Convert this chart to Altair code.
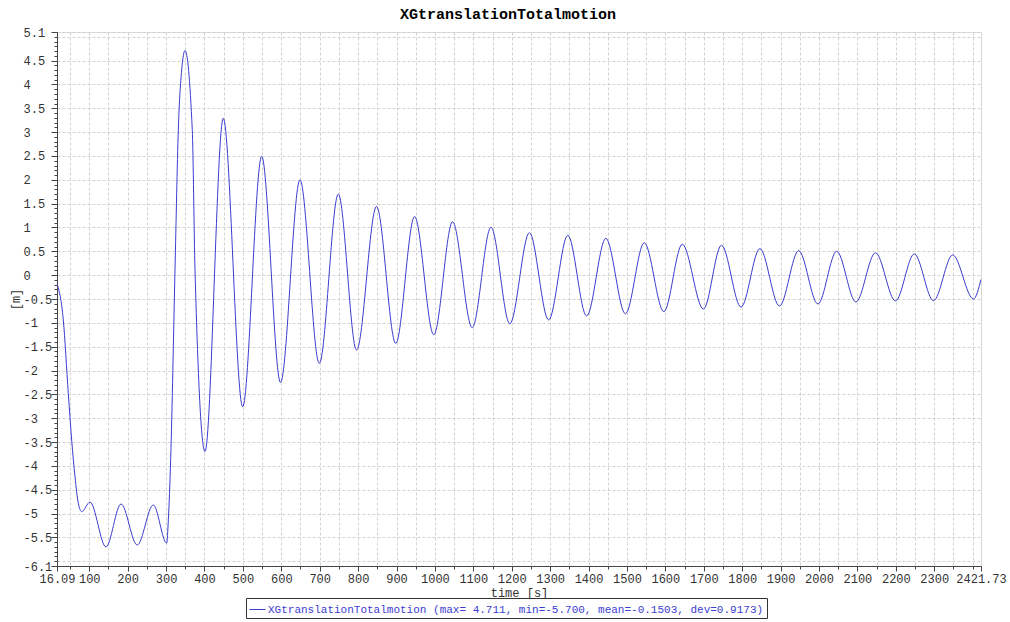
import altair as alt
import pandas as pd

# ---- data (extrema and a few extra points) ----
time_s = [16.09, 32.5, 45.5, 54.3, 63.0, 71.5, 80.4, 102.0, 143.6, 182.7, 225.0,
          266.8, 301.6, 306.0, 312.0, 323.3, 331.9, 340.7, 349.3, 368.3, 375.4,
          401.4, 449.0, 499.5, 549.0, 598.0, 648.7, 699.0, 748.5, 796.0, 848.0,
          898.0, 947.0, 997.0, 1046.0, 1097.0, 1146.0, 1195.0, 1246.0, 1296.0,
          1346.0, 1395.0, 1445.0, 1496.0, 1545.0, 1596.0, 1644.0, 1699.0, 1746.0,
          1797.0, 1846.0, 1897.0, 1947.0, 1997.0, 2046.0, 2096.0, 2147.0, 2199.0,
          2248.0, 2298.0, 2348.0, 2402.0, 2421.73]
x_translation = [-0.18, -0.94, -2.48, -3.46, -4.23, -4.78, -4.96, -4.76, -5.70, -4.80, -5.66,
                 -4.82, -5.62, -5.13, -3.87, 0.11, 3.04, 4.30, 4.711, 3.04, 0.11,
                 -3.70, 3.29, -2.76, 2.49, -2.25, 2.00, -1.85, 1.70, -1.57, 1.44,
                 -1.43, 1.23, -1.25, 1.12, -1.10, 1.005, -1.02, 0.89, -0.94,
                 0.836, -0.856, 0.773, -0.81, 0.68, -0.765, 0.648, -0.71, 0.627,
                 -0.67, 0.556, -0.646, 0.514, -0.604, 0.50, -0.562, 0.47, -0.54,
                 0.445, -0.535, 0.424, -0.50, -0.09]

chart_title = "XGtranslationTotalmotion"
series_name = "XGtranslationTotalmotion (max= 4.711, min=-5.700, mean=-0.1503, dev=0.9173)"
x_title = "time [s]"
y_title = "[m]"

x_domain = [16.09, 2421.73]
y_domain = [-6.1, 5.1]

x_label_values = [16.09, 100, 200, 300, 400, 500, 600, 700, 800, 900, 1000, 1100, 1200,
                  1300, 1400, 1500, 1600, 1700, 1800, 1900, 2000, 2100, 2200, 2300, 2421.73]
y_label_values = [-6.1, -5.5, -5, -4.5, -4, -3.5, -3, -2.5, -2, -1.5, -1, -0.5, 0,
                  0.5, 1, 1.5, 2, 2.5, 3, 3.5, 4, 4.5, 5.1]
x_grid_values = [50 * i for i in range(1, 49)] + [2421.73]
y_grid_values = [round(-6 + 0.5 * i, 1) for i in range(23)] + [5.1]
x_minor_values = [50 * i for i in range(1, 49)]
y_minor_values = [round(-6.1 + 0.1 * i, 1) for i in range(113)]

df = pd.DataFrame({"t": time_s, "v": x_translation, "series": series_name})

FONT = "Liberation Mono"
LINE = "#3c3cd0"
AXC = "#444444"
TXT = "#333333"
GRID = "#d2d2d2"

xs = alt.Scale(domain=x_domain, nice=False, zero=False)
ys = alt.Scale(domain=y_domain, nice=False, zero=False)

base = alt.Chart(df)

grid_layer = base.mark_line(strokeOpacity=0).encode(
    x=alt.X("t:Q", scale=xs, axis=alt.Axis(
        orient="bottom", values=x_grid_values, grid=True, gridColor=GRID,
        gridDash=[3, 2], gridWidth=1, ticks=False, labels=False, domain=False, title=None)),
    y=alt.Y("v:Q", scale=ys, axis=alt.Axis(
        orient="left", values=y_grid_values, grid=True, gridColor=GRID,
        gridDash=[3, 2], gridWidth=1, ticks=False, labels=False, domain=False, title=None)),
)

minor_layer = base.mark_line(strokeOpacity=0).encode(
    x=alt.X("t:Q", scale=xs, axis=alt.Axis(
        orient="bottom", values=x_minor_values, grid=False, ticks=True, tickSize=3,
        tickColor=AXC, labels=False, domain=False,
        title=x_title, titleFont=FONT, titleFontSize=12, titleFontWeight="normal",
        titleColor=TXT, titleY=30, titleBaseline="alphabetic", titleAnchor="middle")),
    y=alt.Y("v:Q", scale=ys, axis=alt.Axis(
        orient="left", values=y_minor_values, grid=False, ticks=True, tickSize=3,
        tickColor=AXC, labels=False, domain=False, title=None)),
)

line_layer = base.mark_line(interpolate="monotone", strokeWidth=1, clip=True).encode(
    x=alt.X("t:Q", scale=xs, axis=alt.Axis(
        orient="bottom", values=x_label_values, grid=False, tickSize=5, tickColor=AXC,
        domainColor=AXC, labelFont=FONT, labelFontSize=12, labelColor=TXT,
        labelExpr="'' + datum.value", labelPadding=2, labelOverlap=False, labelFlush=False,
        title=None)),
    y=alt.Y("v:Q", scale=ys, axis=alt.Axis(
        orient="left", values=y_label_values, grid=False, tickSize=6, tickColor=AXC,
        domainColor=AXC, labelFont=FONT, labelFontSize=12, labelColor=TXT,
        labelAlign="left", labelBaseline="middle", labelPadding=28,
        labelExpr="(datum.value >= 0 ? '\u2007\u2009' : '') + datum.value",
        labelOverlap=False, labelFlush=False,
        title=y_title, titleFont=FONT, titleFontSize=12, titleFontWeight="normal",
        titleColor=TXT, titleX=-42, titleY=267, titleAlign="center",
        titleBaseline="middle")),
    color=alt.Color("series:N", scale=alt.Scale(range=[LINE]), legend=alt.Legend(
        title=None, orient="none", legendX=189, legendY=566, symbolType="stroke",
        symbolSize=256, symbolStrokeWidth=1, symbolStrokeColor=LINE,
        labelFont=FONT, labelFontSize=11, labelColor=LINE, labelLimit=1000,
        labelOffset=2, padding=3, strokeColor="#333333", fillColor="white")),
)

chart = alt.layer(grid_layer, minor_layer, line_layer).resolve_axis(
    x="independent", y="independent"
).properties(
    width=924,
    height=534,
    autosize=alt.AutoSizeParams(type="none"),
    padding={"left": 57, "top": 32, "right": 29, "bottom": 56},
    title=alt.TitleParams(text=chart_title, font=FONT, fontSize=15, fontWeight="bold",
                          color="#000000", anchor="middle", dx=-11, offset=4),
).configure_view(stroke=None).configure(background="white")

chart.save("out.html", embed_options={"renderer": "svg", "actions": False})
